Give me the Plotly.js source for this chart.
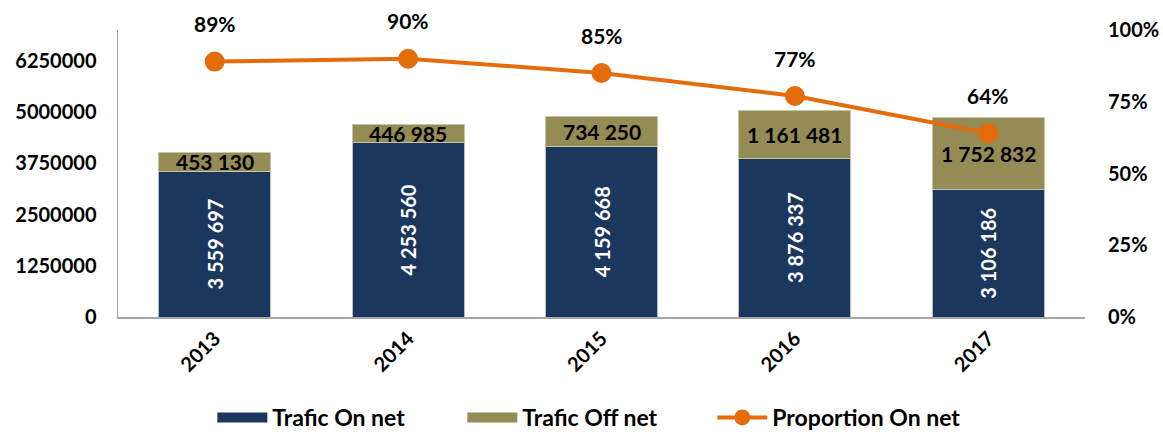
<!DOCTYPE html>
<html>
<head>
<meta charset="utf-8">
<script src="https://cdn.plot.ly/plotly-3.0.1.min.js"></script>
<style>html,body{margin:0;padding:0;background:#fff}#chart{width:1163px;height:439px}</style>
</head>
<body>
<div id="chart"></div>
<script>
const years = ['2013', '2014', '2015', '2016', '2017'];
const onNet = [3559697, 4253560, 4159668, 3876337, 3106186];
const offNet = [453130, 446985, 734250, 1161481, 1752832];
const proportion = [0.89, 0.90, 0.85, 0.77, 0.64];
const proportionLabels = ['89%', '90%', '85%', '77%', '64%'];

function fmt(n) {
  return String(n).replace(/\B(?=(\d{3})+(?!\d))/g, ' ');
}

const FONT = 'Lato, "Open Sans", sans-serif';
const NAVY = '#1b375d', OLIVE = '#958b55', ORANGE = '#e46c0a';

const traces = [
  {
    type: 'bar', name: 'Trafic On net', x: years, y: onNet, showlegend: false,
    marker: {color: NAVY, line: {color: '#b8bcc4', width: 1}},
    text: onNet.map(fmt), textposition: 'inside', textangle: -90,
    insidetextanchor: 'middle',
    insidetextfont: {family: FONT, size: 20, color: '#ffffff', weight: 'bold'},
    hoverinfo: 'skip'
  },
  {
    type: 'bar', name: 'Trafic Off net', x: years, y: offNet, showlegend: false,
    marker: {color: OLIVE, line: {color: '#c8c4a8', width: 1}},
    hoverinfo: 'skip'
  },
  {
    type: 'scatter', mode: 'lines+markers', name: 'Proportion On net',
    x: years, y: proportion, yaxis: 'y2', showlegend: false,
    line: {color: ORANGE, width: 4},
    marker: {color: ORANGE, size: 20},
    hoverinfo: 'skip'
  },
  // legend entries
  {type: 'scatter', mode: 'lines', name: 'Trafic On net', x: [null], y: [null],
   line: {color: NAVY, width: 16}, hoverinfo: 'skip'},
  {type: 'scatter', mode: 'lines', name: 'Trafic Off net', x: [null], y: [null],
   line: {color: OLIVE, width: 16}, hoverinfo: 'skip'},
  {type: 'scatter', mode: 'lines+markers', name: 'Proportion On net', x: [null], y: [null],
   yaxis: 'y2', line: {color: ORANGE, width: 4}, marker: {color: ORANGE, size: 16}, hoverinfo: 'skip'}
];

const annotations = [];
years.forEach((yr, i) => {
  annotations.push({
    x: i, y: onNet[i] + offNet[i] / 2, xref: 'x', yref: 'y',
    text: fmt(offNet[i]), showarrow: false,
    font: {family: FONT, size: 21, color: '#000', weight: 'bold'}
  });
  annotations.push({
    x: i, y: proportion[i], xref: 'x', yref: 'y2',
    text: proportionLabels[i], showarrow: false, yshift: 38,
    font: {family: FONT, size: 21, color: '#000', weight: 'bold'}
  });
});

const layout = {
  width: 1163, height: 439,
  margin: {l: 118, r: 78, t: 30, b: 122},
  barmode: 'stack', bargap: 0.42,
  paper_bgcolor: '#fff', plot_bgcolor: '#fff',
  font: {family: FONT, size: 20, color: '#000', weight: 'bold'},
  showlegend: true,
  legend: {
    orientation: 'h', xref: 'container', x: 0.505, xanchor: 'center',
    yref: 'container', y: -0.028, yanchor: 'bottom',
    font: {family: FONT, size: 23, color: '#000', weight: 'bold'},
    itemwidth: 50, entrywidth: 185, traceorder: 'normal'
  },
  xaxis: {
    type: 'category', range: [-0.5, 4.5], showline: true, linecolor: '#a6a6a6', linewidth: 2,
    ticks: '', tickangle: -45, showgrid: false, automargin: false,
    tickfont: {family: FONT, size: 20, color: '#000', weight: 'bold'}
  },
  yaxis: {
    range: [0, 7000000], tickvals: [0, 1250000, 2500000, 3750000, 5000000, 6250000],
    ticktext: ['0', '1250000', '2500000', '3750000', '5000000', '6250000'],
    showline: true, linecolor: '#a6a6a6', linewidth: 1.5, showgrid: false,
    zeroline: false, ticks: '', ticklabelstandoff: 16, automargin: false,
    tickfont: {family: FONT, size: 20, color: '#000', weight: 'bold'}
  },
  yaxis2: {
    overlaying: 'y', side: 'right', range: [0, 1],
    tickvals: [0, 0.25, 0.5, 0.75, 1], ticktext: ['0%', '25%', '50%', '75%', '100%'],
    showline: false, showgrid: false, zeroline: false, ticks: '', ticklabelstandoff: 22, automargin: false,
    tickfont: {family: FONT, size: 20, color: '#000', weight: 'bold'}
  },
  annotations: annotations
};

Plotly.newPlot('chart', traces, layout, {displayModeBar: false, staticPlot: true});
</script>
</body>
</html>
